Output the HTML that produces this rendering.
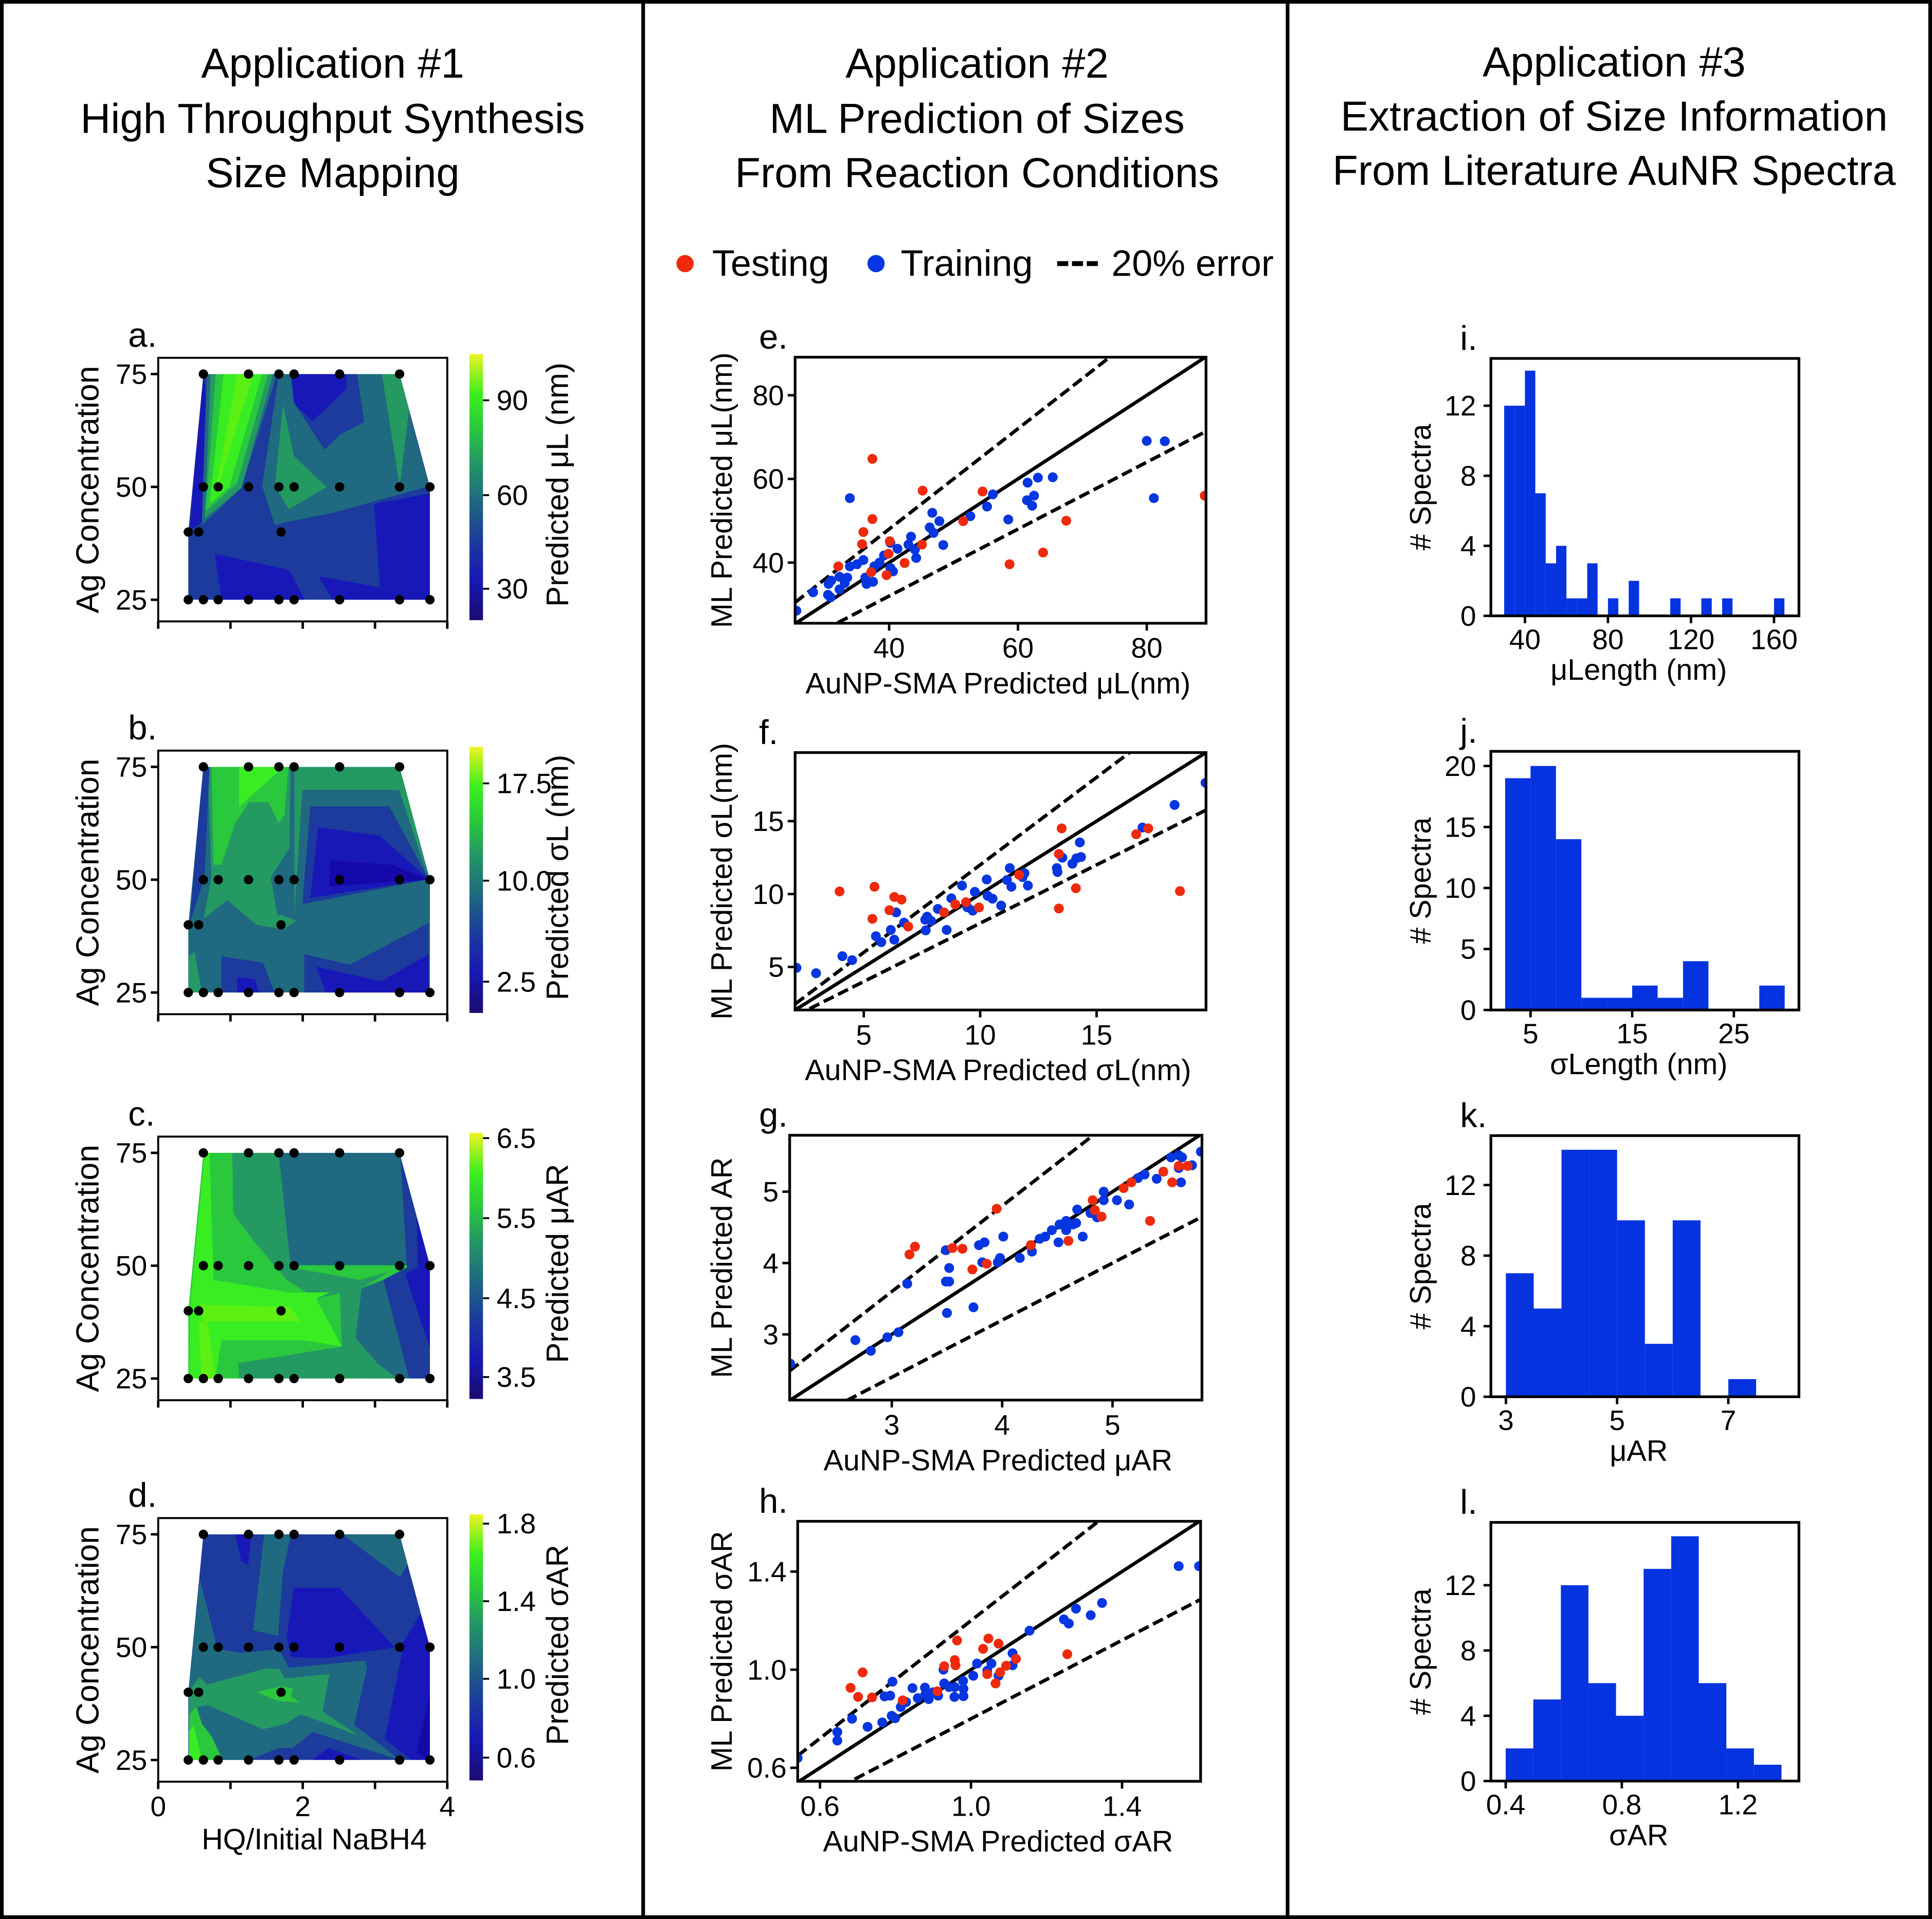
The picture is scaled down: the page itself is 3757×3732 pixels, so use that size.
<!DOCTYPE html>
<html><head><meta charset="utf-8"><title>AuNR size applications</title>
<style>
html,body{margin:0;padding:0;background:#fff;}
svg{display:block;font-family:"Liberation Sans",sans-serif;}
</style></head>
<body>
<svg id="fig" xmlns="http://www.w3.org/2000/svg" width="3757" height="3732" viewBox="0 0 1568 1558" preserveAspectRatio="none">
<rect x="0" y="0" width="1568" height="1558" fill="#fff"/>
<rect x="1.5" y="1.5" width="1565" height="1555" fill="none" stroke="#000" stroke-width="3"/>
<line x1="522" y1="0" x2="522" y2="1558" stroke="#000" stroke-width="3"/>
<line x1="1045" y1="0" x2="1045" y2="1558" stroke="#000" stroke-width="3"/>
<g font-size="34" text-anchor="middle" fill="#000">
<text x="270" y="63">Application #1</text>
<text x="270" y="108">High Throughput Synthesis</text>
<text x="270" y="152">Size Mapping</text>
<text x="793" y="63">Application #2</text>
<text x="793" y="108">ML Prediction of Sizes</text>
<text x="793" y="152">From Reaction Conditions</text>
<text x="1310" y="62">Application #3</text>
<text x="1310" y="106">Extraction of Size Information</text>
<text x="1310" y="150">From Literature AuNR Spectra</text>
</g>
<g font-size="30">
<circle cx="556" cy="214" r="7" fill="#ef2a0c"/>
<text x="578" y="224">Testing</text>
<circle cx="711" cy="214" r="7" fill="#0536e0"/>
<text x="731" y="224">Training</text>
<line x1="858" y1="214" x2="891" y2="214" stroke="#000" stroke-width="4" stroke-dasharray="9,3"/>
<text x="902" y="224">20% error</text>
</g>
<defs>
<linearGradient id="cbgrad" x1="0" y1="1" x2="0" y2="0">
<stop offset="0" stop-color="#1a0c70"/><stop offset="0.15" stop-color="#1818b4"/><stop offset="0.3" stop-color="#1c3b9c"/>
<stop offset="0.45" stop-color="#1f6a80"/><stop offset="0.6" stop-color="#249a62"/><stop offset="0.72" stop-color="#2ac83c"/>
<stop offset="0.85" stop-color="#3cee20"/><stop offset="1" stop-color="#eef224"/>
</linearGradient>
</defs>
<g id="layer"></g>
</svg>
<script>
// ---------- DATA ----------
const gridX = [0.625,1.25,1.67,1.88,2.51,3.34, 0.625,0.83,1.25,1.67,1.88,2.51,3.34,3.76, 0.416,0.56,1.70, 0.416,0.625,0.83,1.25,1.67,1.88,2.51,3.34,3.76];
const gridY = [75,75,75,75,75,75, 50,50,50,50,50,50,50,50, 40,40,40, 25,25,25,25,25,25,25,25,25];
const hullX = [0.625,3.34,3.76,3.76,0.416,0.416];
const hullY = [75,75,50,25,25,40];
const cbTicksA = ["90","60","30"];
const cbTicksB = ["17.5","10.0","2.5"];
const cbTicksC = ["6.5","5.5","4.5","3.5"];
const cbTicksD = ["1.8","1.4","1.0","0.6"];

const eTestX = [37.4,45.2,54.5,37.4,36.0,35.8,40.1,39.9,45.1,51.5,42.4,32.1,37.2,39.6,58.7,63.9,67.5,89.0];
const eTestY = [64.8,57.2,57.0,50.4,47.3,44.4,45.1,42.1,44.3,49.9,39.9,39.1,37.7,37.0,39.6,42.4,50.0,56.0];
const eTrainX = [33.9,80,82.8,81.1,65.4,63.1,61.5,62.5,61.4,62.2,56.1,55.2,52.6,58.5,46.7,47.8,46.3,46.9,48.4,43.4,43.0,44.0,44.2,41.3,40.2,39.2,38.5,37.7,40.2,40.6,36.0,35.0,33.9,37.3,37.5,36.3,36.5,33.5,32.3,31.0,30.6,33.1,32.3,30.5,30.9,28.2,25.6];
const eTrainY = [55.4,69.1,69.0,55.4,60.4,60.3,59.1,56.0,54.9,53.6,56.3,53.4,51.1,50.3,51.9,49.9,48.4,47.1,44.2,46.2,44.3,43.1,41.1,43.3,44.7,41.7,40.0,39.1,38.7,37.9,40.6,39.6,39.1,37.9,35.4,36.4,34.9,36.4,36.6,35.7,34.9,35.1,33.6,32.3,31.7,32.9,28.5];
const eTicks = [40,60,80];

const fTestX = [3.96,5.46,6.31,6.62,6.10,5.37,6.91,8.45,8.93,9.39,9.95,11.67,13.50,13.38,14.11,13.38,16.70,17.22,18.58];
const fTestY = [10.18,10.50,9.80,9.62,8.89,8.30,7.77,8.74,9.29,9.44,9.08,11.32,14.50,12.75,10.40,9.01,14.10,14.50,10.20];
const fTrainX = [2.11,2.95,4.08,4.50,5.52,5.75,6.31,6.16,6.39,6.73,7.64,7.72,7.89,7.66,8.18,8.56,8.76,9.22,9.77,9.45,9.68,10.28,10.32,10.53,10.90,11.27,11.15,11.34,11.90,11.82,12.05,13.29,13.32,13.53,13.96,14.13,14.33,14.28,16.97,18.35,19.68];
const fTrainY = [4.94,4.57,5.74,5.47,7.11,6.70,6.87,7.54,8.74,8.04,8.24,8.45,8.16,7.51,8.98,7.54,9.71,10.58,10.15,9.09,8.86,11.0,9.88,9.68,9.21,11.78,10.96,10.50,11.43,11.16,10.58,11.78,11.51,12.49,12.08,12.45,12.54,13.54,14.56,16.11,17.63];
const fTicks = [5,10,15];

const gTestX = [3.21,3.16,3.55,3.64,3.95,3.86,3.73,4.26,4.60,4.82,4.84,4.90,5.10,5.17,5.34,5.46,5.54,5.60,5.68];
const gTestY = [4.23,4.12,4.21,4.20,4.76,3.99,3.91,4.25,4.31,4.88,4.74,4.65,5.05,5.13,4.59,5.28,5.13,5.36,5.36];
const gTrainX = [2.08,2.67,2.81,2.96,3.06,3.14,3.50,3.74,3.49,3.52,3.52,3.49,3.79,3.84,3.82,3.96,3.98,4.01,4.16,4.27,4.26,4.34,4.39,4.45,4.51,4.52,4.58,4.58,4.64,4.67,4.68,4.73,4.80,4.86,4.92,4.92,5.04,5.15,5.23,5.29,5.40,5.53,5.60,5.63,5.60,5.72,5.62,5.80];
const gTrainY = [2.59,2.92,2.77,2.96,3.03,3.71,3.30,3.38,3.74,3.74,3.93,4.18,4.25,4.29,4.01,4.01,4.07,4.37,4.07,4.16,4.25,4.34,4.37,4.46,4.29,4.54,4.46,4.59,4.54,4.56,4.75,4.37,4.70,4.64,5.00,4.88,4.88,4.82,5.19,5.24,5.18,5.48,5.51,5.48,5.33,5.37,5.13,5.56];
const gTicks = [3,4,5];

const hTestX = [0.713,0.681,0.701,0.738,0.819,0.911,0.929,0.957,0.959,0.963,1.032,1.046,1.073,1.043,1.077,1.065,1.093,1.119,1.255];
const hTestY = [0.989,0.926,0.889,0.887,0.875,0.912,1.014,1.039,1.018,1.119,1.085,1.127,1.106,0.982,0.989,0.944,1.016,1.044,1.063];
const hTrainX = [0.541,0.646,0.646,0.685,0.726,0.765,0.790,0.799,0.814,0.819,0.828,0.771,0.786,0.792,0.845,0.859,0.878,0.879,0.888,0.900,0.913,0.927,0.929,0.942,0.957,0.956,0.979,0.980,0.980,1.006,1.016,1.043,1.054,1.073,1.110,1.110,1.155,1.246,1.259,1.278,1.317,1.347,1.550,1.604];
const hTrainY = [0.640,0.711,0.746,0.800,0.767,0.785,0.812,0.802,0.848,0.866,0.868,0.891,0.894,0.951,0.925,0.884,0.927,0.898,0.880,0.908,0.894,1.000,0.944,0.929,0.929,0.889,0.954,0.922,0.892,0.975,1.025,0.996,1.025,0.975,1.067,1.018,1.159,1.205,1.188,1.249,1.222,1.272,1.422,1.422];
const hTicks = [0.6,1.0,1.4];
const hTickLabels = ["0.6","1.0","1.4"];

const iCounts = [12,12,14,7,3,4,1,1,3,0,1,0,2,0,0,0,1,0,0,1,0,1,0,0,0,0,1];
const iBinStart = 30, iBinWidth = 5;
const iXTicks = [40,80,120,160];
const iYTicks = [0,4,8,12];
const jCounts = [19,20,14,1,1,2,1,4,0,0,2];
const jBinStart = 2.5, jBinWidth = 2.5;
const jXTicks = [5,15,25];
const jYTicks = [0,5,10,15,20];
const kCounts = [7,5,14,14,10,3,10,0,1];
const kBinStart = 3.0, kBinWidth = 0.5;
const kXTicks = [3,5,7];
const kYTicks = [0,4,8,12];
const lCounts = [2,5,12,6,4,13,15,6,2,1];
const lBinStart = 0.4, lBinWidth = 0.095;
const lXTicks = [0.4,0.8,1.2];
const lXTickLabels = ["0.4","0.8","1.2"];
const lYTicks = [0,4,8,12];

const levels = ["#1508a8","#1818b8","#1c3b9c","#1f6a80","#249a62","#2ac83c","#38ee22","#5cf012"];
const regionsA = [
 [1,[[250,130],[265,300],[240,960],[180,1010],[200,700]]],
 [1,[[690,130],[970,130],[970,215],[800,395],[700,290]]],
 [1,[[305,1140],[680,1230],[760,1398],[340,1398]]],
 [1,[[1393,800],[1393,1398],[900,1398],[830,1265],[1140,1330],[1110,860]]],
 [3,[[545,760],[625,160],[640,130],[690,130],[705,290],[860,555],[940,470],[1060,400],[1025,130],[1240,130],[1330,520],[1390,760],[900,910],[655,965],[610,980]]],
 [4,[[650,300],[705,590],[870,765],[680,890],[610,760]]],
 [4,[[1150,130],[1245,130],[1290,300],[1240,760]]],
 [3,[[240,980],[265,130],[620,130],[440,770]]],
 [4,[[255,940],[285,130],[600,130],[440,770]]],
 [5,[[260,900],[310,130],[575,130],[420,740]]],
 [6,[[280,860],[350,130],[545,130],[380,760]]],
 [7,[[310,780],[420,130],[500,130],[340,700]]]
];
const regionsB = [
 [4,[[280,65],[700,65],[695,260],[600,330],[640,440],[530,445],[380,385],[260,430],[300,330]]],
 [5,[[300,65],[690,65],[670,180],[640,200],[590,150],[490,150],[420,200],[350,300],[310,300]]],
 [6,[[440,65],[650,65],[630,80],[440,160]]],
 [2,[[255,65],[290,65],[265,330],[190,440],[210,320]]],
 [4,[[720,65],[1255,65],[1400,335],[720,420]]],
 [3,[[760,120],[1250,120],[1400,335],[720,420]]],
 [2,[[800,160],[1200,160],[1400,335],[760,395]]],
 [1,[[840,210],[1150,230],[1400,335],[800,380]]],
 [0,[[900,290],[1210,300],[1400,335],[900,352]]],
 [2,[[350,520],[560,535],[620,607],[350,607]]],
 [1,[[430,570],[520,575],[540,607],[430,607]]],
 [2,[[770,515],[1000,540],[1400,440],[1400,607],[770,607]]],
 [1,[[830,545],[1160,580],[1400,515],[1400,607],[880,607]]],
 [4,[[185,520],[215,510],[250,607],[183,607]]],
 [4,[[530,445],[650,420],[730,435],[665,455]]]
];
const regionsC = [
 [4,[[405,995],[645,995],[700,1270],[1050,1300],[1200,1280],[1060,1320],[830,1345],[680,1300],[520,1210],[410,1140]]],
 [3,[[640,995],[1255,995],[1290,1265],[700,1265],[650,1040]]],
 [2,[[1255,995],[1410,1265],[1410,1537],[1300,1537],[1170,1300],[1290,1270]]],
 [1,[[1340,1150],[1410,1265],[1410,1470],[1280,1285],[1345,1270]]],
 [3,[[1060,1320],[1170,1300],[1300,1537],[1130,1537],[1030,1440]]],
 [4,[[950,1330],[1060,1320],[1030,1440],[1140,1500],[1240,1537],[440,1537],[435,1500],[960,1460]]],
 [6,[[190,1370],[265,995],[290,995],[310,1300],[690,1330],[900,1330],[830,1345],[960,1460],[770,1445],[350,1445],[320,1537],[187,1537]]],
 [7,[[240,1360],[700,1365],[750,1400],[260,1400]]],
 [7,[[235,1400],[280,1400],[320,1537],[250,1537]]]
];
const regionsD = [
 [3,[[175,1398],[175,1000],[230,380],[320,775],[440,795],[630,775],[680,880],[1065,840],[1075,880],[1010,1200],[1240,1398],[800,1240],[700,1330],[630,1330],[480,1398]]],
 [3,[[500,670],[555,130],[690,130],[650,340],[625,700]]],
 [3,[[950,130],[1240,130],[1280,300],[1240,370]]],
 [4,[[175,1010],[230,930],[265,975],[560,885],[630,885],[660,940],[885,915],[850,1125],[1030,1260],[740,1140],[665,1195],[550,1225],[270,1090],[215,1100],[175,1140]]],
 [5,[[520,1015],[640,985],[700,995],[690,1040],[735,1075],[620,1065]]],
 [5,[[175,1140],[215,1100],[240,1195],[290,1265],[345,1398],[175,1398]]],
 [6,[[175,1240],[200,1205],[240,1398],[175,1398]]],
 [1,[[705,430],[935,430],[1215,765],[870,825],[690,820],[670,700]]],
 [1,[[1240,770],[1345,575],[1393,760],[1393,1398],[1300,1398],[1165,1280],[1250,800]]],
 [1,[[800,1398],[880,1330],[1050,1398]]],
 [1,[[410,130],[490,130],[475,300],[440,285]]],
 [0,[[1325,1360],[1393,1020],[1393,1398]]]
];

// ---------- DRAWING ----------
const NS = 'http://www.w3.org/2000/svg';
const root = document.getElementById('layer');
const RED = '#ef2a0c', BLUE = '#0536e0', HIST = '#0433df';
function mk(tag, attrs, parent){
  const e = document.createElementNS(NS, tag);
  for (const k in attrs) e.setAttribute(k, attrs[k]);
  (parent || root).appendChild(e);
  return e;
}
function lin(d0, d1, r0, r1){ return v => r0 + (v - d0) * (r1 - r0) / (d1 - d0); }
function text(x, y, s, size, anchor, parent, rot){
  const t = mk('text', {x: x, y: y, 'font-size': size, 'text-anchor': anchor || 'middle', fill: '#000'}, parent);
  if (rot) t.setAttribute('transform', 'rotate(-90 ' + x + ' ' + y + ')');
  t.textContent = s;
  return t;
}
let clipId = 0;

const col1 = [
  {key:'a', top:290.5, regions:regionsA, zx0:20, zxs:365, zy75:130, zys:25.36, cb:cbTicksA, cbLabel:'Predicted \u03bcL (nm)', cbPos:[325,402,478]},
  {key:'b', top:609.4, regions:regionsB, zx0:30, zxs:366, zy75:65, zys:10.84, cb:cbTicksB, cbLabel:'Predicted \u03c3L (nm)', cbPos:[636,715,797]},
  {key:'c', top:922.8, regions:regionsC, zx0:30, zxs:366, zy75:995, zys:10.84, cb:cbTicksC, cbLabel:'Predicted \u03bcAR', cbPos:[924,989,1054,1118]},
  {key:'d', top:1232.5, regions:regionsD, zx0:20, zxs:365, zy75:130, zys:25.36, cb:cbTicksD, cbLabel:'Predicted \u03c3AR', cbPos:[1237,1300,1363,1427]}
];
col1.forEach((p, idx) => {
  const g = mk('g', {});
  
  
  const X0 = 128.4, X1 = 363, Y0 = p.top, Y1 = p.top + 214;
  const sx = lin(0, 4, X0, X1);
  const sy = lin(20.2, 78.6, Y1, Y0);
  const toX = zx => (zx - p.zx0) / p.zxs;
  const toY = zy => 75 - (zy - p.zy75) / p.zys;
  const hullPts = hullX.map((v, i) => sx(v) + ',' + sy(hullY[i])).join(' ');
  const cid = 'hull' + (clipId++);
  const cp = mk('clipPath', {id: cid}, g);
  mk('polygon', {points: hullPts}, cp);
  const fillG = mk('g', {'clip-path': 'url(#' + cid + ')'}, g);
  const base = mk('polygon', {points: hullPts, fill: levels[p.key === 'c' ? 5 : (p.key === 'b' ? 3 : 2)]}, fillG);
  
  
  p.regions.forEach(r => {
    const pts = r[1].map(q => sx(toX(q[0])) + ',' + sy(toY(q[1]))).join(' ');
    const poly = mk('polygon', {points: pts, fill: levels[r[0]]}, fillG);
    
    
  });
  gridX.forEach((v, i) => {
    const c = mk('circle', {cx: sx(v), cy: sy(gridY[i]), r: 3.8, fill: '#000'}, g);
    
    
  });
  const box = mk('rect', {x: X0, y: Y0, width: X1 - X0, height: Y1 - Y0, fill: 'none', stroke: '#000', 'stroke-width': 1.6}, g);
  
  
  [75, 50, 25].forEach(v => {
    mk('line', {x1: X0 - 6, x2: X0, y1: sy(v), y2: sy(v), stroke: '#000', 'stroke-width': 2}, g);
    const t = text(X0 - 9, sy(v) + 8, String(v), 23, 'end', g);
    
    
  });
  [0, 1, 2, 3, 4].forEach(v => {
    mk('line', {x1: sx(v), x2: sx(v), y1: Y1, y2: Y1 + 6, stroke: '#000', 'stroke-width': 2}, g);
    if (p.key === 'd' && v % 2 === 0) {
      const t = text(sx(v), Y1 + 28, String(v), 23, 'middle', g);
      
      
    }
  });
  const yl = text(80, (Y0 + Y1) / 2, 'Ag Concentration', 26, 'middle', g, true);
  
  
  const lt = text(104, Y0 - 9, p.key + '.', 28, 'start', g);
  
  
  const cbr = mk('rect', {x: 381, y: Y0 - 3, width: 11, height: 216, fill: 'url(#cbgrad)'}, g);
  
  
  p.cb.forEach((s, i) => {
    mk('line', {x1: 392, x2: 397, y1: p.cbPos[i], y2: p.cbPos[i], stroke: '#000', 'stroke-width': 1.5}, g);
    const t = text(403, p.cbPos[i] + 8, s, 23, 'start', g);
    
    
  });
  const cl = text(461, (Y0 + Y1) / 2 - 4, p.cbLabel, 25, 'middle', g, true);
  
  
  if (p.key === 'd') {
    const xl = text(255, Y1 + 55, 'HQ/Initial NaBH4', 24, 'middle', g);
    
    
  }
});

const col2 = [
  {key:'e', x0:645.3, x1:978.8, y0:290, y1:506, xl:[25.4,89.2], yl:[25.5,89.1], tx:eTestX, ty:eTestY, bx:eTrainX, by:eTrainY, ticks:eTicks, labels:eTicks.map(String), ylab:'ML Predicted \u03bcL(nm)', xlab:'AuNP-SMA Predicted \u03bcL(nm)'},
  {key:'f', x0:645.3, x1:978.8, y0:611, y1:820, xl:[2.05,19.7], yl:[2.05,19.7], tx:fTestX, ty:fTestY, bx:fTrainX, by:fTrainY, ticks:fTicks, labels:fTicks.map(String), ylab:'ML  Predicted \u03c3L(nm)', xlab:'AuNP-SMA Predicted \u03c3L(nm)'},
  {key:'g', x0:640.9, x1:975.5, y0:921.7, y1:1136.7, xl:[2.075,5.81], yl:[2.08,5.79], tx:gTestX, ty:gTestY, bx:gTrainX, by:gTrainY, ticks:gTicks, labels:gTicks.map(String), ylab:'ML Predicted AR', xlab:'AuNP-SMA Predicted \u03bcAR'},
  {key:'h', x0:647.4, x1:974.4, y0:1235.1, y1:1446.2, xl:[0.541,1.608], yl:[0.545,1.605], tx:hTestX, ty:hTestY, bx:hTrainX, by:hTrainY, ticks:hTicks, labels:hTickLabels, ylab:'ML  Predicted \u03c3AR', xlab:'AuNP-SMA Predicted \u03c3AR'}
];
col2.forEach(p => {
  const g = mk('g', {});
  
  
  const sx = lin(p.xl[0], p.xl[1], p.x0, p.x1);
  const sy = lin(p.yl[0], p.yl[1], p.y1, p.y0);
  const cid = 'box' + (clipId++);
  const cp = mk('clipPath', {id: cid}, g);
  mk('rect', {x: p.x0, y: p.y0, width: p.x1 - p.x0, height: p.y1 - p.y0}, cp);
  const inner = mk('g', {'clip-path': 'url(#' + cid + ')'}, g);
  const lo = p.xl[0], hi = p.xl[1];
  [[1.2, true, 'upper-error-line'], [1.0, false, 'parity-line'], [0.8, true, 'lower-error-line']].forEach(l => {
    const ln = mk('line', {x1: sx(lo), y1: sy(lo * l[0]), x2: sx(hi), y2: sy(hi * l[0]), stroke: '#000', 'stroke-width': 2.8}, inner);
    if (l[1]) ln.setAttribute('stroke-dasharray', '9,4');
    
    
  });
  p.bx.forEach((v, i) => {
    const c = mk('circle', {cx: sx(v), cy: sy(p.by[i]), r: 4, fill: BLUE}, inner);
    
    
  });
  p.tx.forEach((v, i) => {
    const c = mk('circle', {cx: sx(v), cy: sy(p.ty[i]), r: 4, fill: RED}, inner);
    
    
  });
  const box = mk('rect', {x: p.x0, y: p.y0, width: p.x1 - p.x0, height: p.y1 - p.y0, fill: 'none', stroke: '#000', 'stroke-width': 2.2}, g);
  
  
  p.ticks.forEach((v, i) => {
    mk('line', {x1: sx(v), x2: sx(v), y1: p.y1, y2: p.y1 + 6, stroke: '#000', 'stroke-width': 2}, g);
    const tx = text(sx(v), p.y1 + 28, p.labels[i], 23, 'middle', g);
    
    
    mk('line', {x1: p.x0 - 6, x2: p.x0, y1: sy(v), y2: sy(v), stroke: '#000', 'stroke-width': 2}, g);
    const ty = text(p.x0 - 9, sy(v) + 8, p.labels[i], 23, 'end', g);
    
    
  });
  const yl = text(594, (p.y0 + p.y1) / 2, p.ylab, 24, 'middle', g, true);
  
  
  const xl = text(810, p.y1 + 57, p.xlab, 24, 'middle', g);
  
  
  const lt = text(616, p.y0 - 7, p.key + '.', 28, 'start', g);
  
  
});

const col3 = [
  {key:'i', y0:291, y1:500, xl:[23.6,172], yMax:14.7, counts:iCounts, start:iBinStart, width:iBinWidth, xt:iXTicks, xtl:iXTicks.map(String), yt:iYTicks, xlab:'\u03bcLength (nm)'},
  {key:'j', y0:610, y1:820, xl:[1.1,31.4], yMax:21.2, counts:jCounts, start:jBinStart, width:jBinWidth, xt:jXTicks, xtl:jXTicks.map(String), yt:jYTicks, xlab:'\u03c3Length (nm)'},
  {key:'k', y0:922, y1:1134, xl:[2.73,8.27], yMax:14.8, counts:kCounts, start:kBinStart, width:kBinWidth, xt:kXTicks, xtl:kXTicks.map(String), yt:kYTicks, xlab:'\u03bcAR'},
  {key:'l', y0:1236, y1:1446, xl:[0.349,1.41], yMax:15.85, counts:lCounts, start:lBinStart, width:lBinWidth, xt:lXTicks, xtl:lXTickLabels, yt:lYTicks, xlab:'\u03c3AR'}
];
col3.forEach(p => {
  const X0 = 1210, X1 = 1460;
  const g = mk('g', {});
  
  
  const sx = lin(p.xl[0], p.xl[1], X0, X1);
  const sy = lin(0, p.yMax, p.y1, p.y0);
  p.counts.forEach((c, i) => {
    if (c <= 0) return;
    const a = p.start + i * p.width, b = a + p.width;
    const r = mk('rect', {x: sx(a), y: sy(c), width: sx(b) - sx(a), height: sy(0) - sy(c), fill: HIST}, g);
    
    
  });
  const box = mk('rect', {x: X0, y: p.y0, width: X1 - X0, height: p.y1 - p.y0, fill: 'none', stroke: '#000', 'stroke-width': 2.2}, g);
  
  
  p.xt.forEach((v, i) => {
    mk('line', {x1: sx(v), x2: sx(v), y1: p.y1, y2: p.y1 + 6, stroke: '#000', 'stroke-width': 2}, g);
    const t = text(sx(v), p.y1 + 27, p.xtl[i], 23, 'middle', g);
    
    
  });
  p.yt.forEach(v => {
    mk('line', {x1: X0 - 6, x2: X0, y1: sy(v), y2: sy(v), stroke: '#000', 'stroke-width': 2}, g);
    const t = text(X0 - 12, sy(v) + 8, String(v), 23, 'end', g);
    
    
  });
  const yl = text(1161, (p.y0 + p.y1) / 2, '#  Spectra', 24, 'middle', g, true);
  
  
  const xl = text(1330, p.y1 + 52, p.xlab, 24, 'middle', g);
  
  
  const lt = text(1185, p.y0 - 7, p.key + '.', 28, 'start', g);
  
  
});
</script>
</body></html>
